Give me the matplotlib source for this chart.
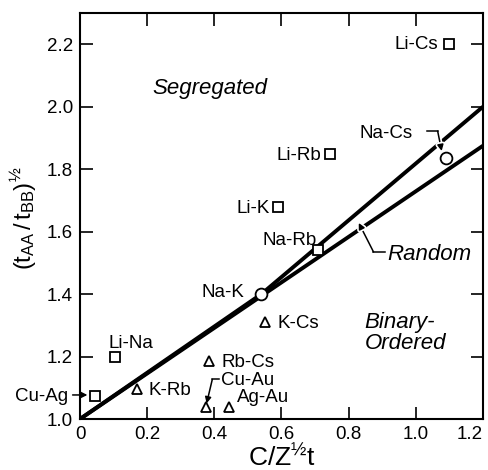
import numpy as np
import matplotlib
matplotlib.use("Agg")
import matplotlib.pyplot as plt
import matplotlib.patheffects as pe

plt.rcParams["font.family"] = ["Liberation Sans", "DejaVu Sans"]
plt.rcParams["mathtext.fontset"] = "custom"
plt.rcParams["mathtext.rm"] = "Liberation Sans"
plt.rcParams["mathtext.it"] = "Liberation Sans:italic"

# open squares
sq_names = ["Li-Cs", "Li-Rb", "Li-K", "Na-Rb", "Li-Na", "Cu-Ag"]
sq_x = [1.10, 0.745, 0.59, 0.71, 0.105, 0.045]
sq_y = [2.20, 1.85, 1.68, 1.54, 1.20, 1.075]

# open circles
ci_names = ["Na-K", "Na-Cs"]
ci_x = [0.54, 1.09]
ci_y = [1.40, 1.835]

# open triangles
tr_names = ["K-Cs", "Rb-Cs", "K-Rb", "Cu-Au", "Ag-Au"]
tr_x = [0.55, 0.385, 0.17, 0.375, 0.445]
tr_y = [1.31, 1.185, 1.095, 1.04, 1.04]

# boundary lines
rand_x = [0.0, 1.2]
rand_y = [1.0, 1.875]
seg_x = [0.0, 0.54, 1.2]
seg_y = [1.0, 1.40, 2.0]

xticks = [0, 0.2, 0.4, 0.6, 0.8, 1.0, 1.2]
xticklabels = ["0", "0.2", "0.4", "0.6", "0.8", "1.0", "1.2"]
yticks = [1.0, 1.2, 1.4, 1.6, 1.8, 2.0, 2.2]

half = "\u00bd"

fig = plt.figure(figsize=(4.89, 4.70), dpi=100)
ax = fig.add_axes([0.1636, 0.1085, 0.9877 - 0.1636, 0.9723 - 0.1085])

ax.plot(rand_x, rand_y, color="black", lw=2.8, solid_capstyle="butt", zorder=2)
ax.plot(seg_x, seg_y, color="black", lw=2.8, solid_capstyle="butt", zorder=2)

mk = dict(ls="none", mfc="white", mec="black", mew=1.3, zorder=4)
ax.plot(sq_x, sq_y, marker="s", ms=7, **mk)
ax.plot(ci_x, ci_y, marker="o", ms=8.5, **mk)
ax.plot(tr_x, tr_y, marker="^", ms=7.5, **mk)

fs = 13.5
lab = dict(fontsize=fs, va="baseline")
ax.text(1.067, 2.184, "Li-Cs", ha="right", **lab)
ax.text(0.717, 1.829, "Li-Rb", ha="right", **lab)
ax.text(0.565, 1.660, "Li-K", ha="right", **lab)
ax.text(0.705, 1.556, "Na-Rb", ha="right", **lab)
ax.text(0.99, 1.900, "Na-Cs", ha="right", **lab)
ax.text(0.49, 1.391, "Na-K", ha="right", **lab)
ax.text(0.587, 1.292, "K-Cs", ha="left", **lab)
ax.text(0.086, 1.228, "Li-Na", ha="left", **lab)
ax.text(-0.036, 1.058, "Cu-Ag", ha="right", clip_on=False, **lab)
ax.text(0.205, 1.077, "K-Rb", ha="left", **lab)
ax.text(0.42, 1.168, "Rb-Cs", ha="left", **lab)
ax.text(0.42, 1.109, "Cu-Au", ha="left", **lab)
ax.text(0.468, 1.055, "Ag-Au", ha="left", **lab)

big = dict(fontsize=16, style="italic", va="baseline")
ax.text(0.388, 2.041, "Segregated", ha="center", **big)
ax.text(0.916, 1.509, "Random", ha="left", **big)
ax.text(0.847, 1.292, "Binary-", ha="left", **big)
ax.text(0.847, 1.225, "Ordered", ha="left", **big)

# pointer arrows (white halo cuts a small gap in the thick lines)
halo = [pe.withStroke(linewidth=3.5, foreground="white")]
arr = dict(arrowstyle="-|>", color="black", lw=1.1, mutation_scale=9,
           shrinkA=0, shrinkB=0)
ax.plot([1.032, 1.066], [1.922, 1.922], color="black", lw=1.1, zorder=5)
ax.annotate("", xy=(1.077, 1.858), xytext=(1.065, 1.922),
            arrowprops=dict(arr, path_effects=halo))
ax.plot([0.909, 0.873], [1.535, 1.535], color="black", lw=1.1, zorder=5)
ax.annotate("", xy=(0.830, 1.628), xytext=(0.874, 1.535),
            arrowprops=dict(arr, path_effects=halo))
ax.plot([0.413, 0.394], [1.127, 1.127], color="black", lw=1.1)
ax.annotate("", xy=(0.377, 1.05), xytext=(0.394, 1.127), arrowprops=arr)
ax.annotate("", xy=(0.022, 1.077), xytext=(-0.022, 1.077), arrowprops=arr,
            annotation_clip=False)

ax.set_xlim(0, 1.2)
ax.set_ylim(1.0, 2.3)
ax.set_xticks(xticks)
ax.set_xticklabels(xticklabels)
ax.set_yticks(yticks)
ax.tick_params(direction="in", length=9, width=1.2, top=True, right=True,
               labelsize=13.5, pad=5)
ax.get_xticklabels()[-1].set_ha("right")
for s in ax.spines.values():
    s.set_linewidth(1.5)

ax.set_xlabel("C/Z$^{" + half + "}$t", fontsize=19, labelpad=1)
fig.text(23 / 489, 1 - 218 / 470,
         r"$(\mathrm{t_{AA}\,/\,t_{BB}})^{" + half + "}$",
         rotation=90, ha="center", va="center", fontsize=17)

fig.savefig("out.png", dpi=100)
